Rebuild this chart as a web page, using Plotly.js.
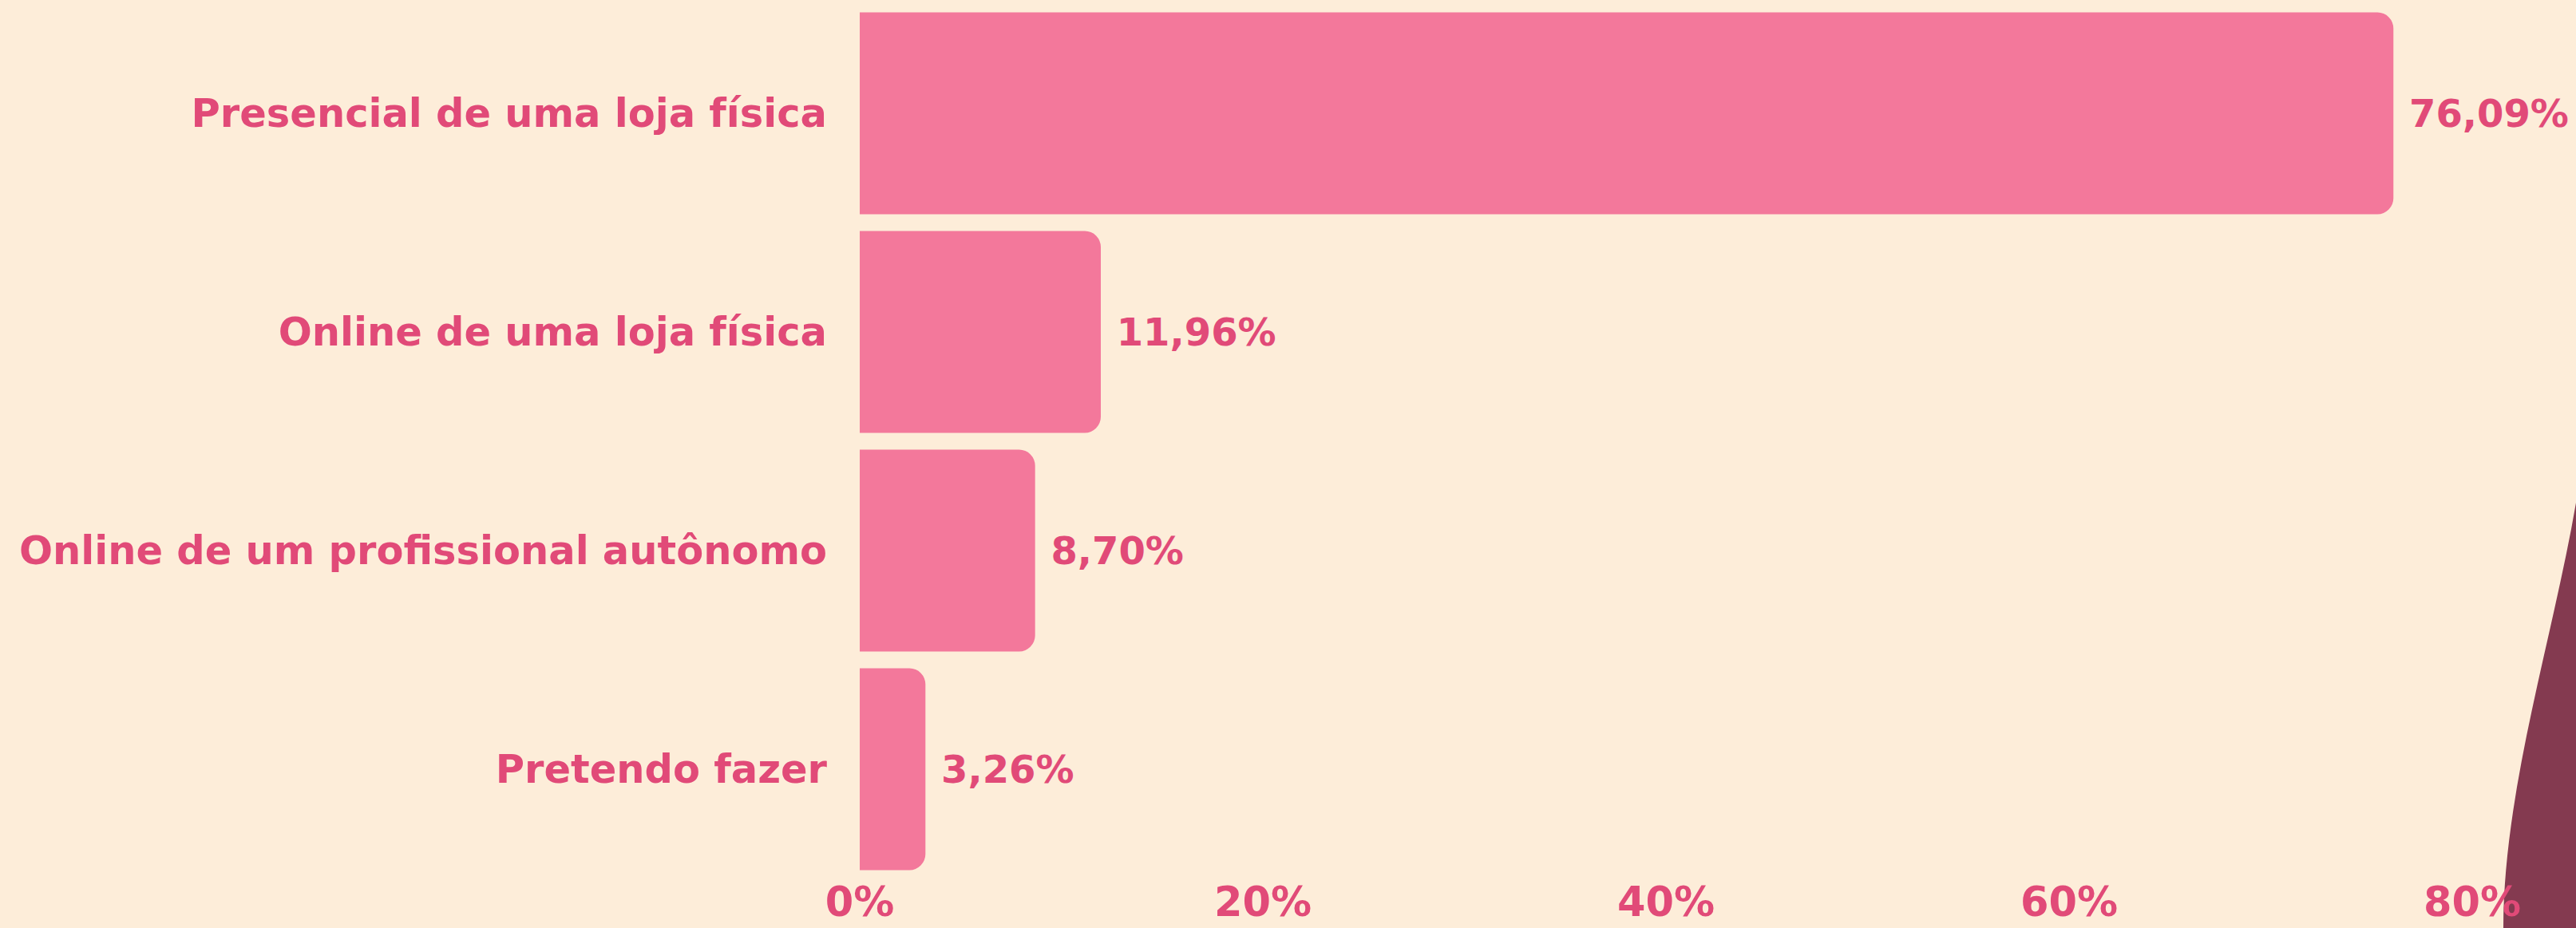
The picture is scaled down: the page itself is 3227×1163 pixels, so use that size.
<!DOCTYPE html>
<html>
<head>
<meta charset="utf-8">
<script src="https://cdn.plot.ly/plotly-3.0.1.min.js"></script>
<style>html,body{margin:0;padding:0;background:#FDEDD9;}</style>
</head>
<body>
<div id="chart" style="width:3227px;height:1163px;"></div>
<script>
const categories = [
  "Presencial de uma loja física",
  "Online de uma loja física",
  "Online de um profissional autônomo",
  "Pretendo fazer"
];
const values = [76.09, 11.96, 8.70, 3.26];
const tickValues = [0, 20, 40, 60, 80];
const tickLabels = ["0%", "20%", "40%", "60%", "80%"];

const W = 3227, H = 1163;
const M = {l: 1077, r: 130, t: 5, b: 62};
const pw = W - M.l - M.r, ph = H - M.t - M.b;
function px(x) { return ((x - M.l) / pw).toFixed(5); }
function py(y) { return ((H - M.b - y) / ph).toFixed(5); }
const blob = `M ${px(3227)} ${py(630)} C ${px(3198)} ${py(800)} ${px(3136)} ${py(990)} ${px(3136)} ${py(1163)} L ${px(3227)} ${py(1163)} Z`;

const textColor = "#E14A78";
const fam = "DejaVu Sans";
const trace = {
  type: "bar",
  orientation: "h",
  x: values,
  y: categories,
  marker: {color: "#F3789B", cornerradius: 20},
  texttemplate: " %{x:.2f}%",
  textposition: "outside",
  cliponaxis: false,
  textfont: {family: fam, size: 48, color: textColor, weight: 700},
  hoverinfo: "skip"
};

const layout = {
  width: W, height: H,
  margin: M,
  paper_bgcolor: "#FDEDD9",
  plot_bgcolor: "#FDEDD9",
  separators: ",.",
  bargap: 0.077,
  showlegend: false,
  font: {family: fam, color: textColor, size: 50, weight: 700},
  xaxis: {
    range: [0, 80],
    tickvals: tickValues,
    ticktext: tickLabels,
    showgrid: false, zeroline: false, showline: false,
    tickfont: {family: fam, size: 51, color: textColor, weight: 700},
    ticklabelstandoff: -5,
    fixedrange: true
  },
  yaxis: {
    autorange: "reversed",
    showgrid: false, zeroline: false, showline: false,
    tickfont: {family: fam, size: 49.5, color: textColor, weight: 700},
    ticklabelstandoff: 40,
    fixedrange: true
  },
  shapes: [{
    type: "path", xref: "paper", yref: "paper",
    path: blob, fillcolor: "#843A50", line: {width: 0}, layer: "below"
  }]
};

Plotly.newPlot("chart", [trace], layout, {displayModeBar: false, staticPlot: true});
</script>
</body>
</html>
